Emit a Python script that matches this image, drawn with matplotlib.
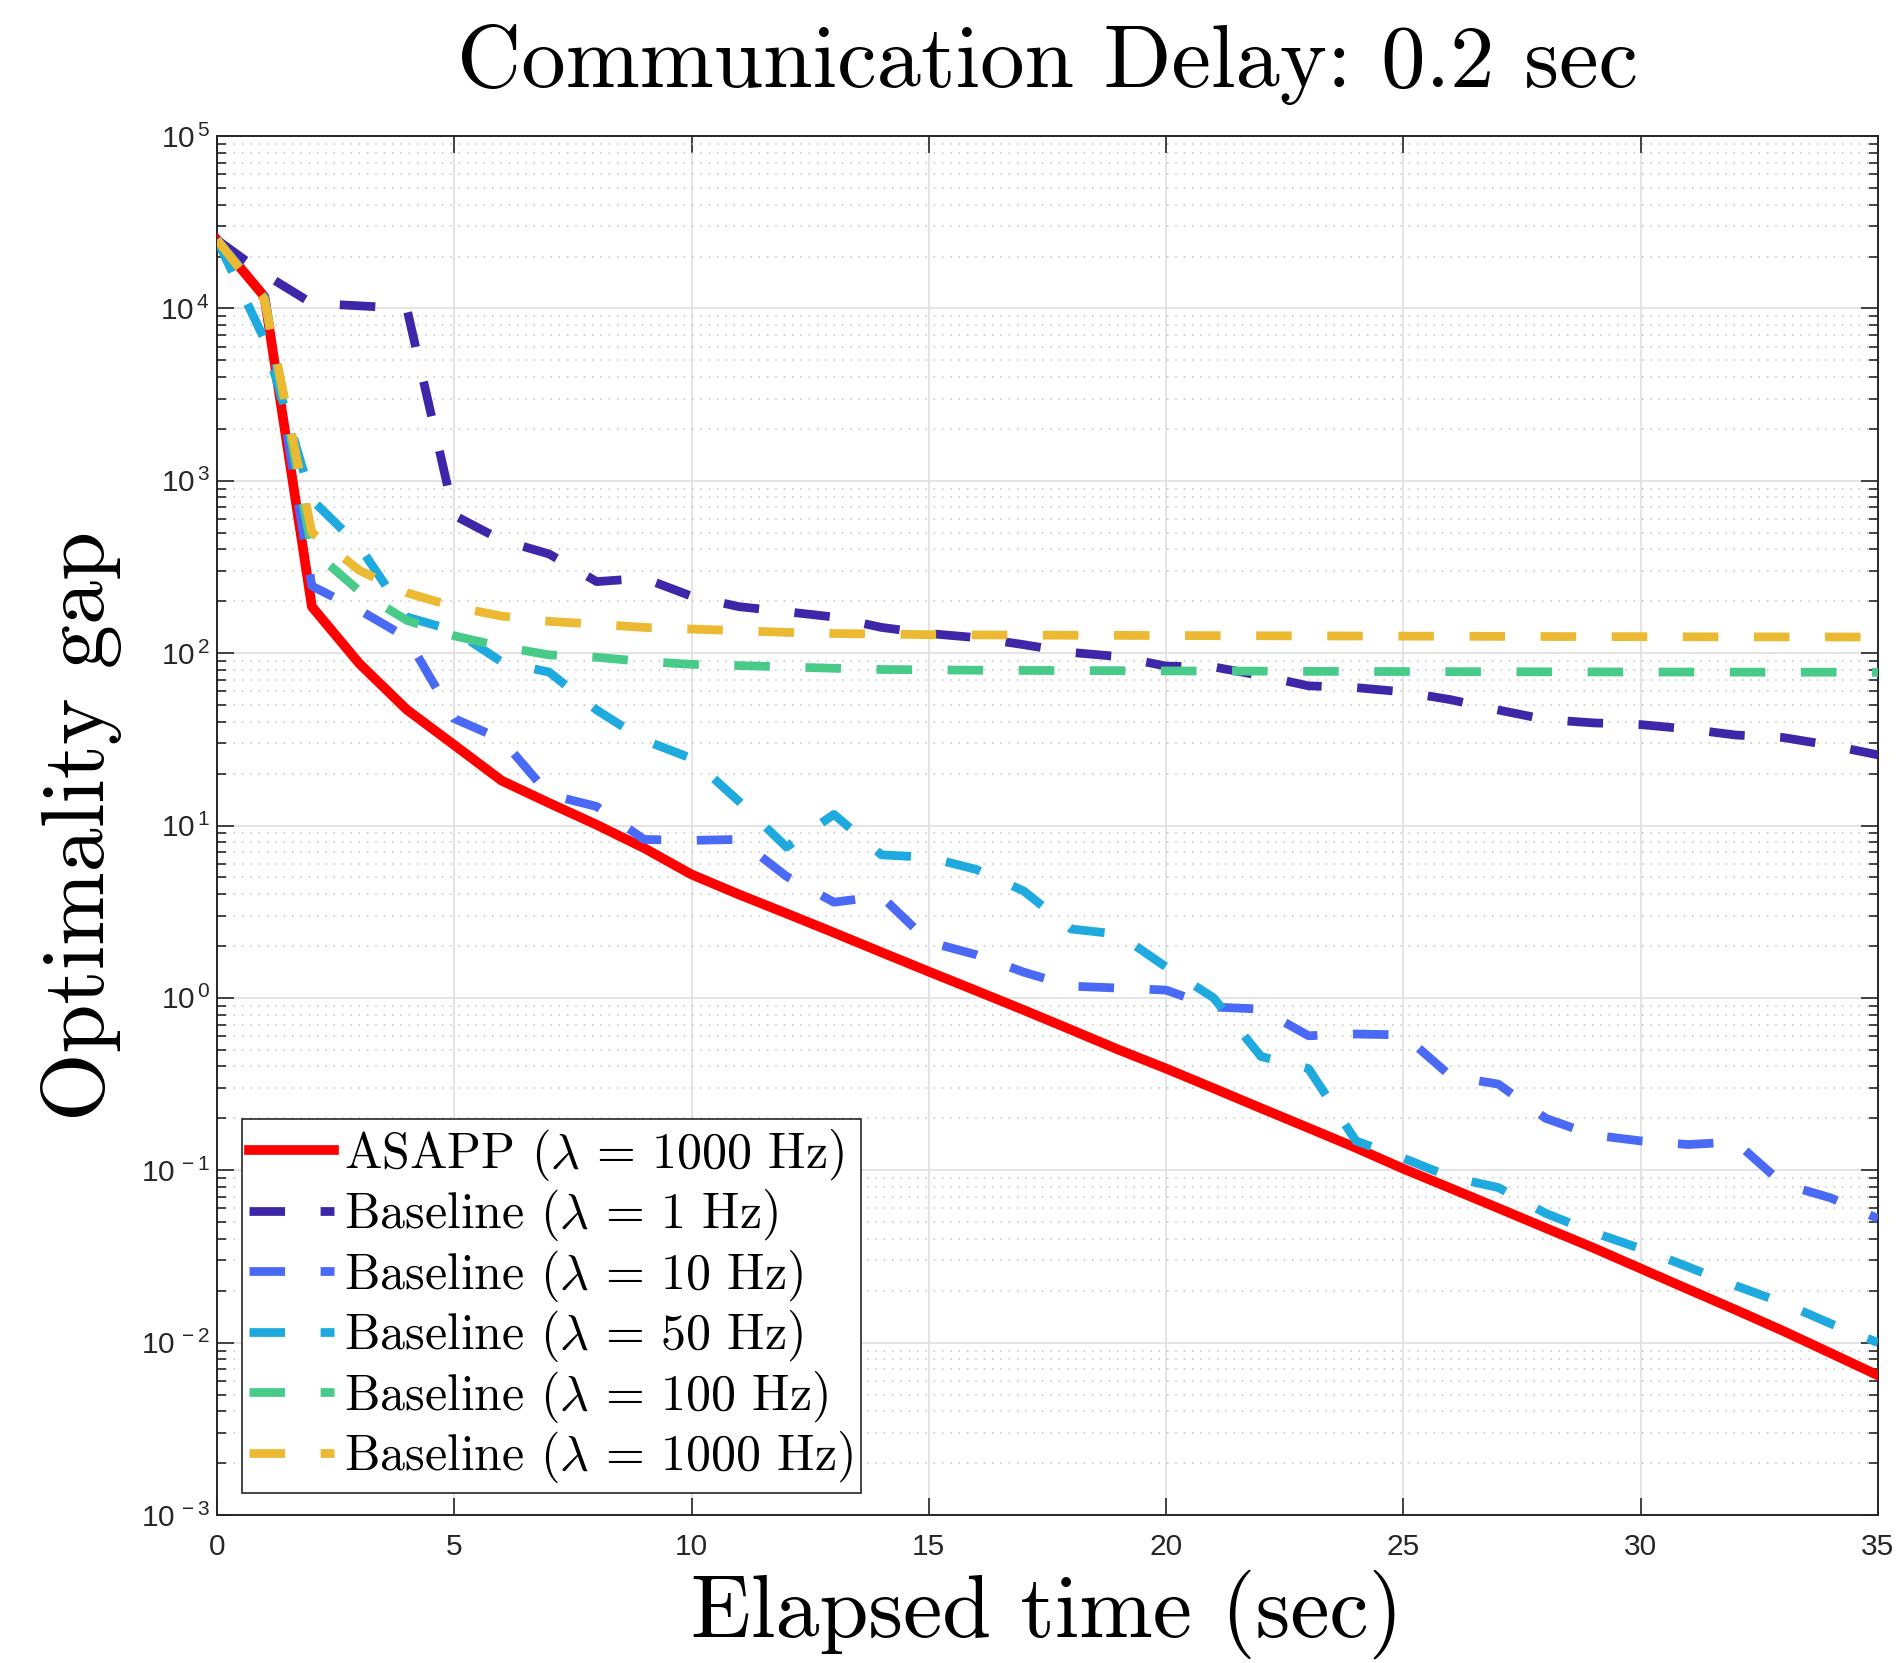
import math
import matplotlib
matplotlib.use("Agg")
import matplotlib.pyplot as plt
from matplotlib.ticker import FixedLocator, NullFormatter, FuncFormatter, LogLocator

plt.rcParams['mathtext.fontset'] = 'cm'
plt.rcParams['lines.scale_dashes'] = False

# elapsed time (sec)
time_s = list(range(0, 36))

asapp_1000 = [2.5e4, 1.17e4, 186, 87, 47, 29.3, 18.2, 13.5, 10.1, 7.4,
              5.2, 3.98, 3.09, 2.39, 1.84, 1.42, 1.10, 0.85, 0.653, 0.50,
              0.389, 0.299, 0.229, 0.176, 0.135, 0.102, 0.0785, 0.0603, 0.0462, 0.0355,
              0.0269, 0.0204, 0.0155, 0.0117, 0.0087, 0.00646]

base_1 = [2.5e4, 1.58e4, 1.07e4, 1.035e4, 1.0e4, 630, 452, 376, 260, 272,
          214, 186, 174, 162, 141, 130, 123, 112, 101, 95.5,
          84.1, 83.2, 74.1, 64.6, 63.1, 59.6, 53.7, 46.8, 41.2, 39.4,
          38.5, 36.3, 33.5, 32.4, 29.2, 25.7]

base_10 = [2.5e4, 1.17e4, 245, 178, 123, 41.7, 31.6, 15.1, 12.9, 8.3,
           8.2, 8.3, 5.07, 3.59, 3.89, 2.11, 1.78, 1.41, 1.17, 1.14,
           1.11, 0.885, 0.861, 0.603, 0.617, 0.61, 0.351, 0.316, 0.20, 0.160,
           0.148, 0.141, 0.146, 0.0832, 0.0692, 0.0525]

base_50 = [2.5e4, 6.6e3, 776, 417, 162, 135, 89, 77.6, 46.8, 31.3,
           24.5, 13.8, 7.5, 11.6, 6.76, 6.53, 5.56, 4.17, 2.51, 2.34,
           1.51, 1.0, 0.457, 0.389, 0.148, 0.1175, 0.0912, 0.0794, 0.0562, 0.0437,
           0.0351, 0.0275, 0.0214, 0.0170, 0.0129, 0.0100]

base_100 = [2.5e4, 1.15e4, 398, 229, 155, 126, 109, 97.7, 94.6, 89.5,
            86.1, 84.7, 83.2, 81.7, 80.4, 80.0, 79.6, 79.4, 79.2, 79.1,
            78.9, 78.7, 78.6, 78.4, 78.3, 78.2, 78.1, 78.0, 77.9, 77.8,
            77.7, 77.7, 77.6, 77.5, 77.5, 77.4]

base_1000 = [2.5e4, 1.12e4, 501, 302, 224, 186, 164, 153, 147, 141,
             138, 135, 132, 130, 129, 128, 127.6, 127.3, 127.0, 126.8,
             126.5, 126.3, 126.1, 125.9, 125.7, 125.5, 125.3, 125.1, 124.9, 124.7,
             124.6, 124.4, 124.3, 124.2, 124.1, 124.0]

labels = [r'ASAPP ($\lambda\,=\,1000$ Hz)',
          r'Baseline ($\lambda\,=\,1$ Hz)',
          r'Baseline ($\lambda\,=\,10$ Hz)',
          r'Baseline ($\lambda\,=\,50$ Hz)',
          r'Baseline ($\lambda\,=\,100$ Hz)',
          r'Baseline ($\lambda\,=\,1000$ Hz)']

colours = ['#FF0000', '#3E26A8', '#4A69F5', '#1EA9DF', '#48CB89', '#EBBA32']

fig = plt.figure(figsize=(19, 16.63), dpi=100)
ax = fig.add_axes([0.1142, 0.0890, 0.8742, 0.8292])

series = [asapp_1000, base_1, base_10, base_50, base_100, base_1000]
for i, values in enumerate(series):
    if i == 0:
        ax.plot(time_s, values, color=colours[i], lw=7.0, label=labels[i],
                solid_joinstyle='round', zorder=3)
    else:
        ax.plot(time_s, values, color=colours[i], lw=6.3, label=labels[i],
                linestyle=(0, (25.6, 25.6)), dash_capstyle='butt', zorder=3 + i)

ax.set_yscale('log')
ax.set_xlim(0, 35)
ax.set_ylim(1e-3, 1e5)
ax.set_xticks([0, 5, 10, 15, 20, 25, 30, 35])
ax.yaxis.set_major_locator(FixedLocator([10.0 ** k for k in range(-3, 6)]))
ax.yaxis.set_minor_locator(LogLocator(base=10, subs=range(2, 10), numticks=50))
ax.yaxis.set_minor_formatter(NullFormatter())
ax.yaxis.set_major_formatter(FuncFormatter(
    lambda v, pos: r'$\mathregular{10^{\,%d}}$' % round(math.log10(v))))

axis_col = '#262626'
for s in ax.spines.values():
    s.set_color(axis_col)
    s.set_linewidth(1.4)

ax.tick_params(which='both', direction='in', top=True, right=True,
               colors=axis_col, width=1.2)
ax.tick_params(which='major', length=12, labelsize=21.5)
ax.tick_params(axis='x', which='major', pad=13)
ax.tick_params(axis='y', which='major', pad=5)
ax.tick_params(which='minor', length=6.3)
for lab in ax.get_xticklabels() + ax.get_yticklabels():
    lab.set_fontfamily('Liberation Sans')

ax.grid(True, which='major', color='#e2e2e2', lw=1.3)
ax.yaxis.grid(True, which='minor', color='#c4c4c4', lw=1.2, linestyle=(0, (1, 5)))
ax.set_axisbelow(True)

ax.set_title('Communication Delay: 0.2 sec', fontfamily='cmr10', fontsize=64, pad=35)
ax.set_xlabel('Elapsed time (sec)', fontfamily='cmr10', fontsize=63.5, labelpad=6)
ax.set_ylabel('Optimality gap', fontfamily='cmr10', fontsize=63.5, labelpad=14)

leg = ax.legend(loc='lower left', bbox_to_anchor=(0.015, 0.016), borderaxespad=0,
                prop={'family': 'cmr10', 'size': 36}, handlelength=1.7,
                handletextpad=0.2, labelspacing=0.09, borderpad=0.15,
                fancybox=False, framealpha=1.0, edgecolor=axis_col)
leg.get_frame().set_linewidth(1.2)

fig.savefig('out.png', dpi=100)
